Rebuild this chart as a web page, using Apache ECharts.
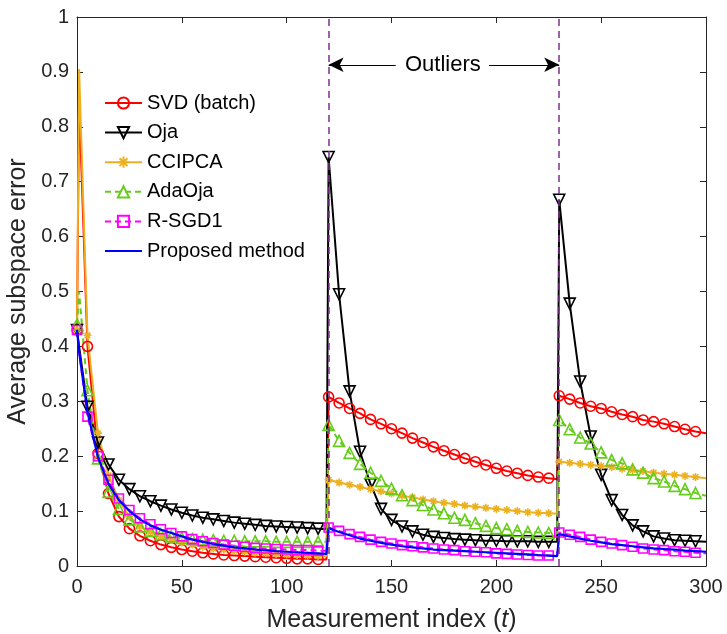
<!DOCTYPE html>
<html>
<head>
<meta charset="utf-8">
<script src="https://cdn.jsdelivr.net/npm/echarts@6/dist/echarts.min.js"></script>
<style>
  html, body { margin: 0; padding: 0; background: #ffffff; }
  #chart { width: 727px; height: 634px; }
</style>
</head>
<body>
<div id="chart"></div>
<script>
// Measurement index of every stored sample (outliers injected at t = 120 and t = 230)
const tIndex = [
  0, 1, 5, 10, 15, 20, 25, 30, 35, 40, 45, 50, 55, 60, 65, 70, 75, 80, 85, 90, 95, 100, 105, 110, 115, 119,
  120, 125, 130, 135, 140, 145, 150, 155, 160, 165, 170, 175, 180, 185, 190, 195, 200, 205, 210, 215, 220, 225, 229,
  230, 235, 240, 245, 250, 255, 260, 265, 270, 275, 280, 285, 290, 295, 300
];

const svdBatch = [
  0.43, 0.85, 0.40, 0.205, 0.132, 0.090, 0.068, 0.055, 0.046, 0.039, 0.034, 0.030, 0.027, 0.024, 0.022, 0.020, 0.019, 0.018, 0.017, 0.016, 0.015, 0.014, 0.013, 0.013, 0.012, 0.012,
  0.308, 0.297, 0.287, 0.278, 0.267, 0.259, 0.250, 0.242, 0.233, 0.225, 0.217, 0.210, 0.203, 0.196, 0.190, 0.184, 0.178, 0.173, 0.169, 0.165, 0.162, 0.160, 0.158,
  0.310, 0.304, 0.297, 0.291, 0.287, 0.281, 0.276, 0.272, 0.266, 0.263, 0.259, 0.254, 0.249, 0.245, 0.242
];

const oja = [
  0.43, 0.40, 0.29, 0.225, 0.185, 0.157, 0.140, 0.127, 0.118, 0.110, 0.103, 0.097, 0.092, 0.088, 0.085, 0.082, 0.079, 0.077, 0.075, 0.073, 0.072, 0.071, 0.070, 0.069, 0.068, 0.067,
  0.745, 0.495, 0.318, 0.208, 0.149, 0.104, 0.084, 0.072, 0.063, 0.057, 0.053, 0.051, 0.049, 0.048, 0.047, 0.046, 0.046, 0.045, 0.045, 0.045, 0.044, 0.044, 0.044,
  0.667, 0.478, 0.336, 0.236, 0.166, 0.120, 0.093, 0.074, 0.063, 0.054, 0.050, 0.047, 0.046, 0.045, 0.044
];

const ccipca = [
  0.43, 0.905, 0.42, 0.242, 0.165, 0.120, 0.090, 0.072, 0.062, 0.054, 0.048, 0.043, 0.039, 0.035, 0.032, 0.030, 0.028, 0.026, 0.024, 0.023, 0.022, 0.021, 0.020, 0.019, 0.018, 0.018,
  0.157, 0.152, 0.148, 0.144, 0.140, 0.136, 0.132, 0.128, 0.125, 0.121, 0.118, 0.115, 0.113, 0.110, 0.108, 0.106, 0.104, 0.102, 0.100, 0.098, 0.097, 0.096, 0.095,
  0.190, 0.188, 0.186, 0.184, 0.182, 0.180, 0.177, 0.175, 0.173, 0.170, 0.168, 0.166, 0.164, 0.162, 0.160
];

const adaOja = [
  0.44, 0.50, 0.32, 0.196, 0.135, 0.104, 0.085, 0.072, 0.064, 0.058, 0.054, 0.051, 0.049, 0.048, 0.047, 0.046, 0.046, 0.045, 0.045, 0.045, 0.044, 0.044, 0.044, 0.044, 0.044, 0.044,
  0.257, 0.228, 0.206, 0.186, 0.170, 0.155, 0.141, 0.129, 0.120, 0.111, 0.103, 0.096, 0.088, 0.084, 0.078, 0.073, 0.069, 0.067, 0.064, 0.062, 0.061, 0.060, 0.059,
  0.266, 0.249, 0.234, 0.223, 0.207, 0.193, 0.187, 0.176, 0.170, 0.160, 0.154, 0.146, 0.140, 0.133, 0.128
];

const rSgd1 = [
  0.43, 0.39, 0.272, 0.200, 0.157, 0.123, 0.102, 0.087, 0.076, 0.067, 0.060, 0.054, 0.049, 0.045, 0.042, 0.039, 0.037, 0.035, 0.033, 0.032, 0.031, 0.030, 0.029, 0.029, 0.028, 0.028,
  0.070, 0.064, 0.058, 0.053, 0.048, 0.044, 0.041, 0.038, 0.036, 0.034, 0.032, 0.030, 0.029, 0.027, 0.026, 0.025, 0.023, 0.022, 0.021, 0.020, 0.019, 0.019, 0.018,
  0.061, 0.057, 0.053, 0.048, 0.044, 0.041, 0.038, 0.035, 0.032, 0.030, 0.029, 0.027, 0.026, 0.024, 0.023
];

const proposed = [
  0.43, 0.39, 0.28, 0.198, 0.150, 0.120, 0.100, 0.085, 0.074, 0.066, 0.060, 0.054, 0.048, 0.044, 0.040, 0.037, 0.034, 0.032, 0.030, 0.029, 0.027, 0.026, 0.025, 0.024, 0.023, 0.022,
  0.069, 0.062, 0.056, 0.050, 0.046, 0.042, 0.039, 0.036, 0.034, 0.032, 0.030, 0.029, 0.028, 0.027, 0.026, 0.025, 0.024, 0.023, 0.022, 0.021, 0.020, 0.019, 0.018,
  0.058, 0.054, 0.050, 0.046, 0.043, 0.040, 0.038, 0.036, 0.034, 0.032, 0.031, 0.030, 0.028, 0.027, 0.026
];

const xTicks = { min: 0, max: 300, step: 50 };
const yTicks = { min: 0, max: 1, step: 0.1 };
const outlierTimes = [120, 230];
const outlierNoteLevel = 0.913;

const FONT = '"Liberation Sans", Arial, Helvetica, sans-serif';
const AXIS_COLOR = '#262626';

const pairs = (vals) => tIndex.map((t, i) => [t, vals[i]]);
// markers every 5 samples, as in the original plotting routine
const markerSize = (size) => (v) => (v[0] % 5 === 0 && v[0] < 300 ? size : 0);

const asterisk = 'path://M0,-10L0,10M-10,0L10,0M-7,-7L7,7M-7,7L7,-7';
const plainLine = 'path://M0,0L37,0L37,2.2L0,2.2Z';

function methodSeries(name, vals, color, symbol, size, opts = {}) {
  return {
    name,
    type: 'line',
    data: pairs(vals),
    showAllSymbol: true,
    symbol,
    symbolSize: markerSize(size),
    symbolRotate: opts.rotate || 0,
    symbolKeepAspect: true,
    lineStyle: { color, width: 2, type: opts.dash ? [6, 4] : 'solid' },
    itemStyle: { color: 'rgba(255,255,255,0)', borderColor: color, borderWidth: 1.6 },
    emphasis: { disabled: true },
    z: opts.z || 2
  };
}

const chart = echarts.init(document.getElementById('chart'), null, { renderer: 'canvas' });

const axisCommon = {
  type: 'value',
  axisLine: { show: true, onZero: false, lineStyle: { color: AXIS_COLOR, width: 1 } },
  axisTick: { show: true, inside: true, length: 6, lineStyle: { color: AXIS_COLOR } },
  splitLine: { show: false }
};

const option = {
  animation: false,
  backgroundColor: '#ffffff',
  textStyle: { fontFamily: FONT },
  grid: { left: 77, right: 21, top: 17, bottom: 68, containLabel: false, outerBoundsMode: 'none' },
  legend: {
    orient: 'vertical',
    left: 99,
    top: 88,
    itemWidth: 37,
    itemHeight: 14,
    itemGap: 9.6,
    data: [
      'SVD (batch)', 'Oja', 'CCIPCA', 'AdaOja', 'R-SGD1',
      { name: 'Proposed method', icon: plainLine, itemStyle: { color: '#0000ff' } }
    ],
    textStyle: { fontFamily: FONT, fontSize: 20, color: '#000000' }
  },
  xAxis: [
    Object.assign({}, axisCommon, {
      position: 'bottom',
      min: xTicks.min, max: xTicks.max, interval: xTicks.step,
      axisLabel: { fontSize: 20, color: AXIS_COLOR, margin: 11, fontFamily: FONT },
      name: 'Measurement index ({it|t})',
      nameLocation: 'middle',
      nameGap: 42,
      nameTextStyle: {
        fontSize: 25, color: AXIS_COLOR, fontFamily: FONT,
        rich: { it: { fontStyle: 'italic', fontSize: 25, color: AXIS_COLOR, fontFamily: FONT } }
      }
    }),
    Object.assign({}, axisCommon, {
      position: 'top',
      min: xTicks.min, max: xTicks.max, interval: xTicks.step,
      axisLabel: { show: false }
    })
  ],
  yAxis: [
    Object.assign({}, axisCommon, {
      position: 'left',
      min: yTicks.min, max: yTicks.max, interval: yTicks.step,
      axisLabel: { fontSize: 20, color: AXIS_COLOR, margin: 8, fontFamily: FONT },
      name: 'Average subspace error',
      nameLocation: 'middle',
      nameGap: 45,
      nameTextStyle: { fontSize: 25, color: AXIS_COLOR, fontFamily: FONT }
    }),
    Object.assign({}, axisCommon, {
      position: 'right',
      min: yTicks.min, max: yTicks.max, interval: yTicks.step,
      axisLabel: { show: false }
    })
  ],
  series: [
    methodSeries('SVD (batch)', svdBatch, '#ff0000', 'circle', 10),
    methodSeries('Oja', oja, '#000000', 'triangle', 11, { rotate: 180 }),
    methodSeries('CCIPCA', ccipca, '#edb120', asterisk, 8),
    methodSeries('AdaOja', adaOja, '#66cc1a', 'triangle', 11, { dash: true }),
    methodSeries('R-SGD1', rSgd1, '#ff00ff', 'rect', 9, { dash: true }),
    {
      name: 'Proposed method',
      type: 'line',
      data: pairs(proposed),
      symbol: 'none',
      lineStyle: { color: '#0000ff', width: 2.2 },
      itemStyle: { color: '#0000ff' },
      emphasis: { disabled: true },
      z: 3
    },
    {
      // outlier markers: dashed verticals, double arrow and its caption
      name: 'outlier-notes',
      type: 'line',
      data: [],
      silent: true,
      z: 4,
      markLine: {
        silent: true,
        animation: false,
        symbol: ['none', 'none'],
        label: { show: false },
        emphasis: { disabled: true },
        data: [
          [
            { coord: [outlierTimes[0], yTicks.min], lineStyle: { color: '#7e2f8e', width: 1.5, type: [7, 5] } },
            { coord: [outlierTimes[0], yTicks.max] }
          ],
          [
            { coord: [outlierTimes[1], yTicks.min], lineStyle: { color: '#7e2f8e', width: 1.5, type: [7, 5] } },
            { coord: [outlierTimes[1], yTicks.max] }
          ],
          [
            { coord: [152, outlierNoteLevel], symbol: 'none', lineStyle: { color: '#000000', width: 1.2, type: 'solid' } },
            { coord: [outlierTimes[0], outlierNoteLevel], symbol: 'arrow', symbolSize: [11, 15] }
          ],
          [
            { coord: [196.5, outlierNoteLevel], symbol: 'none', lineStyle: { color: '#000000', width: 1.2, type: 'solid' } },
            { coord: [outlierTimes[1], outlierNoteLevel], symbol: 'arrow', symbolSize: [11, 15] }
          ]
        ]
      },
      markPoint: {
        silent: true,
        symbol: 'rect',
        symbolSize: 1,
        itemStyle: { color: 'rgba(0,0,0,0)' },
        label: { show: true, position: 'inside', formatter: 'Outliers', fontSize: 22, color: '#000000', fontFamily: FONT },
        data: [{ coord: [(outlierTimes[0] + outlierTimes[1]) / 2 - 0.5, outlierNoteLevel] }]
      }
    }
  ]
};

chart.setOption(option);
</script>
</body>
</html>
